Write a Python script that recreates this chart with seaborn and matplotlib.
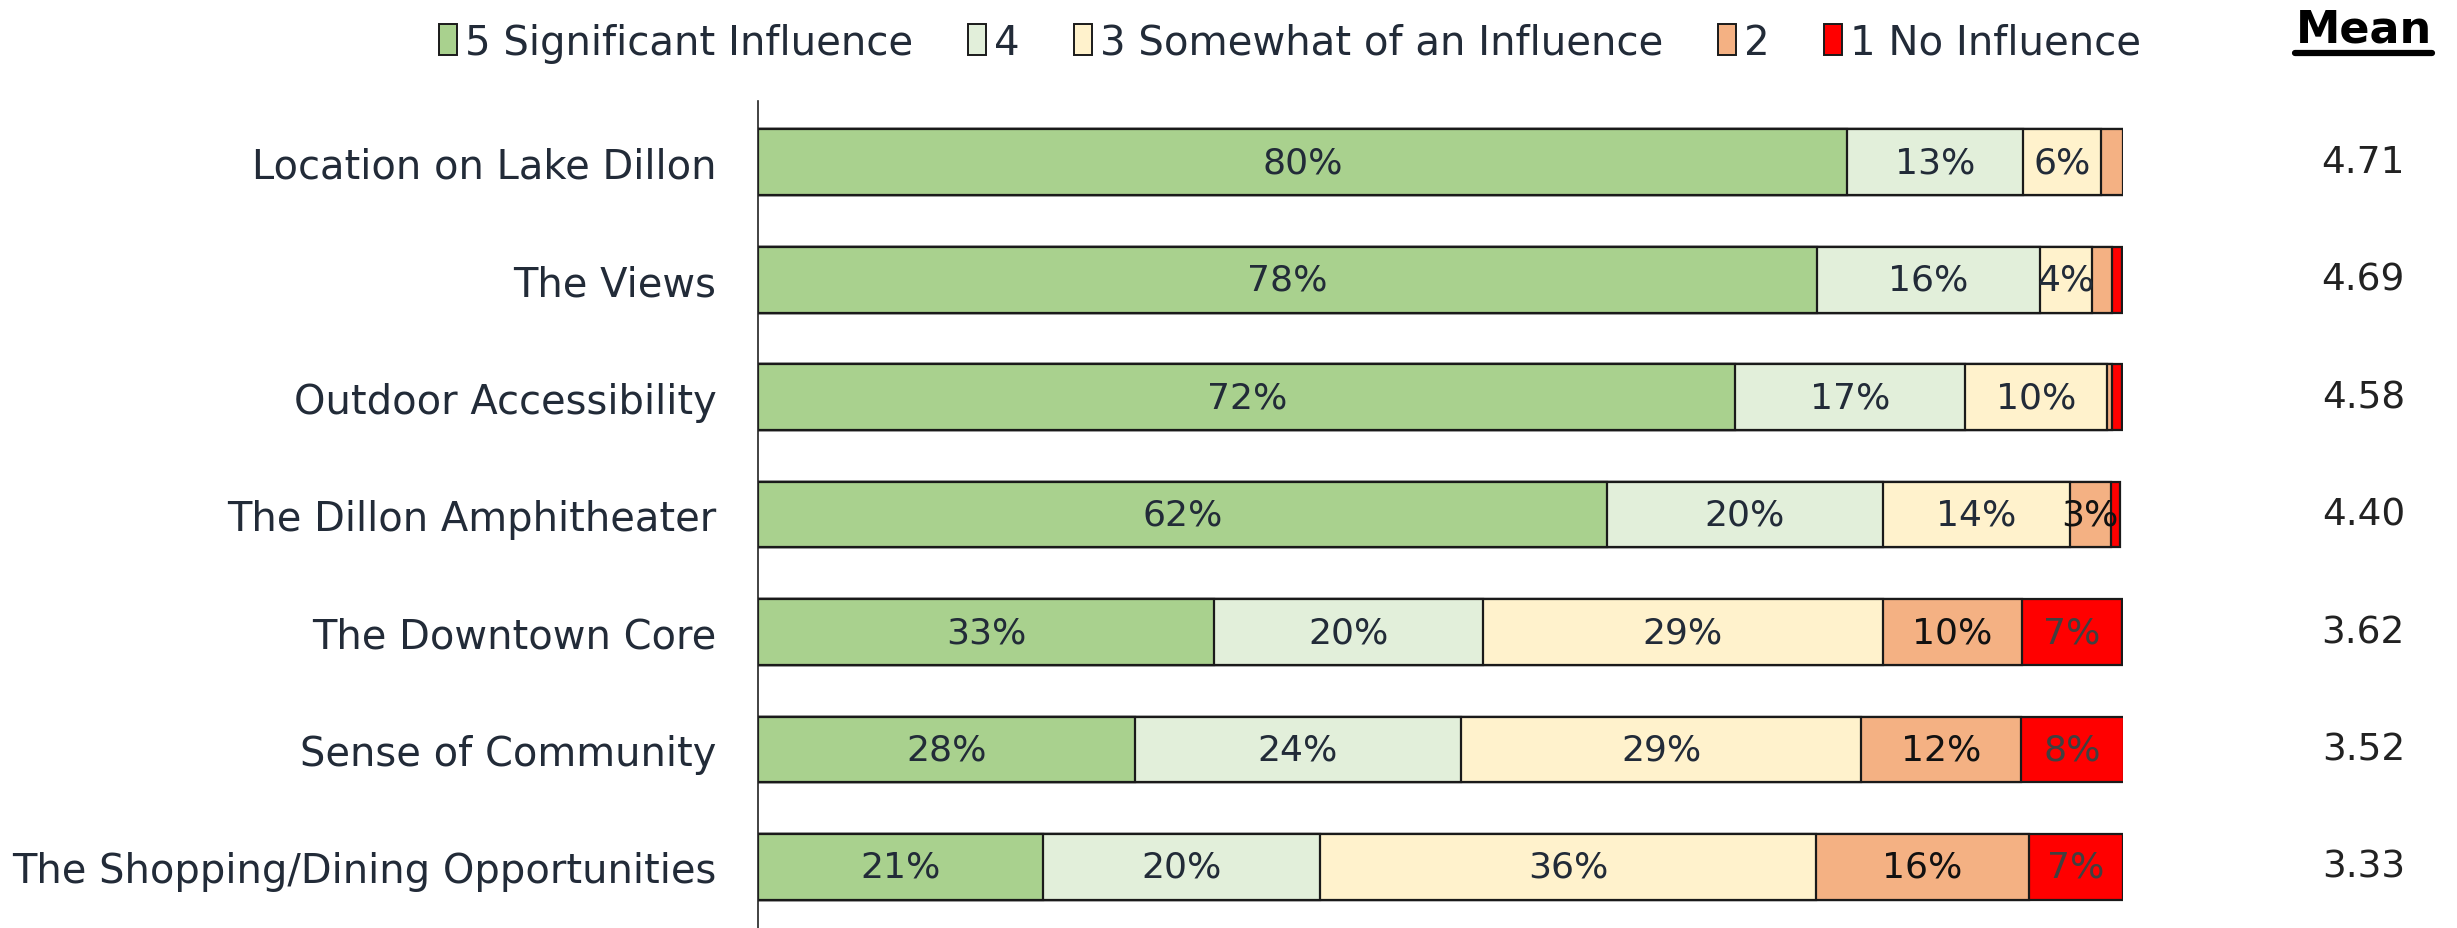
import numpy as np
import pandas as pd
import seaborn as sns
import matplotlib.pyplot as plt
from matplotlib.lines import Line2D
from matplotlib.patches import Patch

categories = ["Location on Lake Dillon", "The Views", "Outdoor Accessibility",
              "The Dillon Amphitheater", "The Downtown Core", "Sense of Community",
              "The Shopping/Dining Opportunities"]
levels = ["5 Significant Influence", "4", "3 Somewhat of an Influence", "2", "1 No Influence"]
sig5 = [79.8, 77.6, 71.6, 62.2, 33.4, 27.6, 20.9]
lvl4 = [12.9, 16.3, 16.8, 20.2, 19.7, 23.9, 20.3]
lvl3 = [5.7, 3.8, 10.4, 13.7, 29.3, 29.3, 36.3]
lvl2 = [1.6, 1.5, 0.4, 3.0, 10.2, 11.7, 15.6]
none1 = [0.0, 0.7, 0.7, 0.7, 7.3, 7.6, 6.9]
means = [4.71, 4.69, 4.58, 4.40, 3.62, 3.52, 3.33]

colors = ["#a9d18e", "#e2efda", "#fff2cc", "#f4b183", "#ff0000"]
text_col = "#222b38"

df = pd.DataFrame({"category": categories, levels[0]: sig5, levels[1]: lvl4,
                   levels[2]: lvl3, levels[3]: lvl2, levels[4]: none1})
cum = df[levels].cumsum(axis=1)

sns.set_style("white")
plt.rcParams['font.family'] = ['DejaVu Sans']

fig = plt.figure(figsize=(24.57, 9.29), dpi=100)
ax = fig.add_axes([0.3085, 0.0, 0.5556, 0.89])

# draw cumulative totals from the back so each segment covers the previous
for lvl, col in reversed(list(zip(levels, colors))):
    sns.barplot(data=cum.assign(category=categories), x=lvl, y="category", orient="h",
                color=col, edgecolor="#1a1a1a", linewidth=1.6, width=0.56,
                saturation=1, ax=ax)

# segment labels
for i, cat in enumerate(categories):
    left = 0
    for j, lvl in enumerate(levels):
        v = df.loc[i, lvl]
        if v >= 2.5:
            c = "#404040" if j == 4 else ("#111111" if j == 3 else text_col)
            ax.text(left + v / 2, i, f"{v:.0f}%", ha="center", va="center",
                    fontsize=26, color=c)
        left += v
    ax.text(1.176, i, f"{means[i]:.2f}", transform=ax.get_yaxis_transform(),
            ha="center", va="center", fontsize=27, color="#222222")

ax.set_xlim(0, 100)
ax.set_ylim(6.52, -0.52)
ax.set_xlabel("")
ax.set_ylabel("")
ax.set_xticks([])
ax.tick_params(axis="y", length=0, pad=30, labelsize=28.8, labelcolor=text_col)
for s in ["top", "right", "bottom"]:
    ax.spines[s].set_visible(False)
ax.spines["left"].set_color("#222222")
ax.spines["left"].set_linewidth(1.2)

handles = [Patch(facecolor=c, edgecolor="#1a1a1a", linewidth=1.4) for c in colors]
fig.legend(handles, levels, loc="center", bbox_to_anchor=(0.525, 0.953), ncol=5,
           frameon=False, fontsize=29, handlelength=0.45, handleheight=0.8,
           handletextpad=0.2, columnspacing=1.35, labelcolor=text_col)

fig.text(0.962, 0.968, "Mean", ha="center", va="center", fontsize=32,
         fontweight="bold", color="black")
fig.add_artist(Line2D([0.934, 0.990], [0.942, 0.942], color="black", linewidth=4.5))

fig.savefig("out.png", dpi=100)
